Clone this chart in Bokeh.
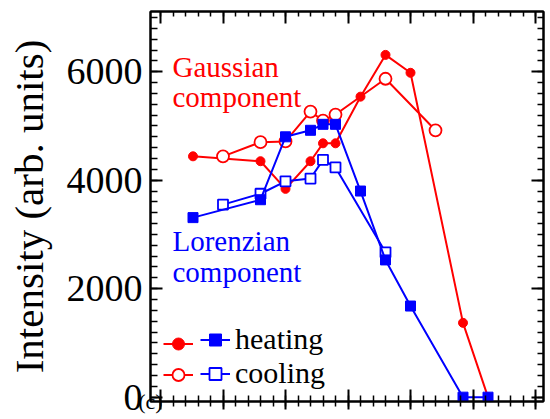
from bokeh.plotting import figure
from bokeh.models import (LinearAxis, SingleIntervalTicker, Range1d, Legend, LegendItem,
                          Label, CustomJSTickFormatter)
from bokeh.embed import file_html
from bokeh.resources import INLINE

# ---- data ----
temp_heat = [126, 180, 200, 220, 230, 240, 260, 280, 300, 342, 362]
gauss_heat = [4440, 4350, 3840, 4350, 4680, 4680, 5540, 6310, 5980, 1370, 0]
lor_heat = [3310, 3640, 4800, 4920, 5030, 5030, 3800, 2530, 1680, 0, 0]

temp_cool_g = [150, 180, 200, 220, 230, 240, 280, 320]
gauss_cool = [4440, 4700, 4715, 5265, 5100, 5210, 5870, 4920]

temp_cool_l = [150, 180, 200, 220, 230, 240, 280]
lor_cool = [3550, 3750, 3980, 4030, 4375, 4235, 2670]

y_label = "Intensity (arb. units)"
legend_labels = ["heating", "cooling"]
next_panel_tag = "(c)"

RED = "#ff0000"
BLUE = "#0000ff"
FONT = "Liberation Serif"

p = figure(width=550, height=419, x_range=Range1d(92, 406.4), y_range=Range1d(-80, 7110),
           output_backend="svg", toolbar_location=None,
           min_border_left=150, min_border_right=7, min_border_top=11, min_border_bottom=18)
p.xgrid.visible = False
p.ygrid.visible = False
p.outline_line_color = "black"
p.outline_line_width = 2
p.background_fill_color = "white"
p.border_fill_color = "white"

xt = SingleIntervalTicker(interval=50, num_minor_ticks=5)
yt = SingleIntervalTicker(interval=2000, num_minor_ticks=10)

blank = CustomJSTickFormatter(code="return ''")

def style(ax, tin, tout, min_in, min_out):
    ax.axis_line_width = 2
    ax.axis_line_color = "black"
    ax.major_tick_line_color = "black"
    ax.minor_tick_line_color = "black"
    ax.major_tick_line_width = 2
    ax.minor_tick_line_width = 1.5
    ax.major_tick_in = tin
    ax.major_tick_out = tout
    ax.minor_tick_in = min_in
    ax.minor_tick_out = min_out

# bottom (its axis label carries the tag of the next panel peeking in)
bx = p.xaxis[0]
bx.ticker = xt
bx.formatter = blank
bx.major_label_standoff = 0
style(bx, 12, 8, 6, 5)
bx.axis_label = next_panel_tag
bx.axis_label_align = "start"
bx.axis_label_text_font = FONT
bx.axis_label_text_font_size = "22px"
bx.axis_label_text_font_style = "normal"
bx.axis_label_text_color = "black"
bx.axis_label_standoff = -21

# left
ly = p.yaxis[0]
ly.ticker = yt
style(ly, 12, 0, 7, 0)
ly.major_label_text_font = FONT
ly.major_label_text_font_size = "38px"
ly.major_label_text_color = "black"
ly.major_label_standoff = 8
ly.axis_label = y_label
ly.axis_label_text_font = FONT
ly.axis_label_text_font_size = "41px"
ly.axis_label_text_font_style = "normal"
ly.axis_label_text_color = "black"
ly.axis_label_standoff = 12

top = LinearAxis(ticker=SingleIntervalTicker(interval=50, num_minor_ticks=5), formatter=blank)
top.major_label_standoff = 0
style(top, 12, 0, 5, 0)
p.add_layout(top, "above")

right = LinearAxis(ticker=SingleIntervalTicker(interval=2000, num_minor_ticks=10), formatter=blank)
right.major_label_standoff = 0
style(right, 12, 0, 6, 0)
p.add_layout(right, "right")

# ---- series ----
rl_h = p.line(temp_heat, gauss_heat, line_color=RED, line_width=2)
rs_h = p.scatter(temp_heat, gauss_heat, marker="circle", size=9, fill_color=RED, line_color=RED)
rl_c = p.line(temp_cool_g, gauss_cool, line_color=RED, line_width=2)
rs_c = p.scatter(temp_cool_g, gauss_cool, marker="circle", size=12, fill_color="white",
                 line_color=RED, line_width=1.8)
bl_c = p.line(temp_cool_l, lor_cool, line_color=BLUE, line_width=2)
bs_c = p.scatter(temp_cool_l, lor_cool, marker="square", size=10, fill_color="white",
                 line_color=BLUE, line_width=1.8)
bl_h = p.line(temp_heat, lor_heat, line_color=BLUE, line_width=2)
bs_h = p.scatter(temp_heat, lor_heat, marker="square", size=10, fill_color=BLUE, line_color=BLUE)

# ---- annotations ----
for txt, x, y, col in [("Gaussian", 109.6, 6090, RED), ("component", 109.6, 5540, RED),
                       ("Lorenzian", 109.6, 2870, BLUE), ("component", 109.6, 2305, BLUE)]:
    p.add_layout(Label(x=x, y=y, text=txt, text_color=col, text_font=FONT,
                       text_font_size="29px", text_baseline="alphabetic"))

# ---- legends (red glyph column, blue glyph column + labels) ----
def mk_legend(items, loc, standoff):
    lg = Legend(items=items, location=loc, glyph_width=30, glyph_height=31,
                label_width=0, label_standoff=standoff, padding=0, margin=0, spacing=-2,
                border_line_alpha=0, background_fill_alpha=0,
                label_text_font=FONT, label_text_font_size="30px", label_text_color="black")
    return lg

leg_red = mk_legend([LegendItem(label=" ", renderers=[rl_h, rs_h]),
                     LegendItem(label=" ", renderers=[rl_c, rs_c])], (13, 11), 0)
leg_blue = mk_legend([LegendItem(label=legend_labels[0], renderers=[bl_h, bs_h]),
                      LegendItem(label=legend_labels[1], renderers=[bl_c, bs_c])], (50, 11), 5)
p.add_layout(leg_red)
p.add_layout(leg_blue)

open("out.html", "w").write(file_html(p, INLINE))
